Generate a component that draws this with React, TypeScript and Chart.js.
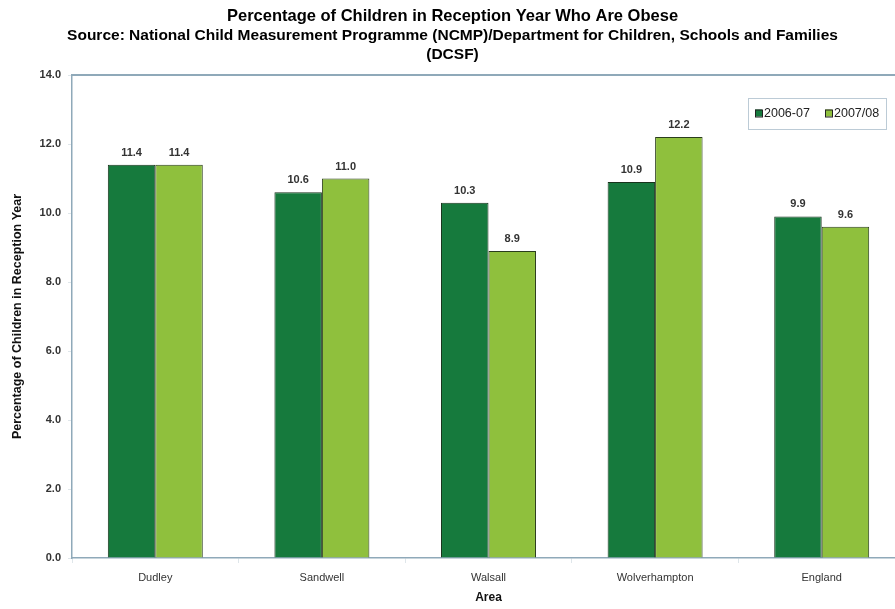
import React, { useEffect, useRef } from "react";
import { Chart, registerables } from "chart.js";

Chart.register(...registerables);

const categories = ["Dudley", "Sandwell", "Walsall", "Wolverhampton", "England"];
const series2006 = [11.4, 10.6, 10.3, 10.9, 9.9];
const series2007 = [11.4, 11.0, 8.9, 12.2, 9.6];
const seriesLabels = ["2006-07", "2007/08"];
const yTicks = [0, 2, 4, 6, 8, 10, 12, 14];

const DARK = "#167a3d";
const LIGHT = "#8fc03d";
const FRAME = "#8fa9b9";
const FONT = "'Liberation Sans', Arial, Helvetica, sans-serif";

const framePlugin = {
  id: "frameTop",
  afterDraw(chart: any) {
    const { ctx, chartArea } = chart;
    ctx.save();
    ctx.strokeStyle = FRAME;
    ctx.lineWidth = 2;
    ctx.beginPath();
    ctx.moveTo(chartArea.left, chartArea.top);
    ctx.lineTo(chartArea.right, chartArea.top);
    ctx.lineTo(chartArea.right, chartArea.bottom);
    ctx.stroke();
    ctx.restore();
  },
};

const valueLabelPlugin = {
  id: "valueLabels",
  afterDatasetsDraw(chart: any) {
    const { ctx } = chart;
    ctx.save();
    ctx.font = `bold 11px ${FONT}`;
    ctx.fillStyle = "#333333";
    ctx.textAlign = "center";
    ctx.textBaseline = "middle";
    chart.data.datasets.forEach((ds: any, i: number) => {
      const meta = chart.getDatasetMeta(i);
      meta.data.forEach((bar: any, j: number) => {
        ctx.fillText(Number(ds.data[j]).toFixed(1), bar.x, bar.y - 12);
      });
    });
    ctx.restore();
  },
};

const legendPlugin = {
  id: "boxLegend",
  afterDraw(chart: any) {
    const { ctx, chartArea } = chart;
    const right = chartArea.right - 19;
    const left = right - 138;
    const top = chartArea.top + 23;
    const h = 31;
    ctx.save();
    ctx.fillStyle = "#ffffff";
    ctx.fillRect(left, top, right - left, h);
    ctx.strokeStyle = "#bccbd6";
    ctx.lineWidth = 1;
    ctx.strokeRect(left + 0.5, top + 0.5, right - left, h);
    ctx.font = `12.5px ${FONT}`;
    ctx.textBaseline = "middle";
    ctx.textAlign = "left";
    const cy = top + h / 2;
    let x = left + 7;
    chart.data.datasets.forEach((ds: any) => {
      ctx.fillStyle = ds.backgroundColor;
      ctx.fillRect(x, cy - 4, 7, 7);
      ctx.strokeStyle = "#222";
      ctx.strokeRect(x + 0.5, cy - 3.5, 7, 7);
      ctx.fillStyle = "#222222";
      ctx.fillText(ds.label, x + 9, cy);
      x += 70;
    });
    ctx.restore();
  },
};

export default function App() {
  const ref = useRef<HTMLCanvasElement | null>(null);

  useEffect(() => {
    document.documentElement.style.overflow = "hidden";
    document.body.style.overflow = "hidden";
    if (!ref.current) return;
    const chart = new Chart(ref.current, {
      type: "bar",
      data: {
        labels: categories,
        datasets: [
          {
            label: seriesLabels[0],
            data: series2006,
            backgroundColor: DARK,
            borderColor: "#17331c",
            borderWidth: 1,
            categoryPercentage: 0.57,
            barPercentage: 1,
          },
          {
            label: seriesLabels[1],
            data: series2007,
            backgroundColor: LIGHT,
            borderColor: "#2a3d1c",
            borderWidth: 1,
            categoryPercentage: 0.57,
            barPercentage: 1,
          },
        ],
      },
      options: {
        animation: false,
        responsive: false,
        devicePixelRatio: 1,
        layout: { padding: { left: 0, right: 1, top: 0, bottom: 0 } },
        plugins: {
          legend: { display: false },
          tooltip: { enabled: false },
          title: {
            display: true,
            text: "Percentage of Children in Reception Year Who Are Obese",
            font: { family: FONT, size: 16.5, weight: "bold", lineHeight: 1.2 },
            color: "#000000",
            padding: { top: 7, bottom: 0 },
          },
          subtitle: {
            display: true,
            text: [
              "Source: National Child Measurement Programme (NCMP)/Department for Children, Schools and Families",
              "(DCSF)",
            ],
            font: { family: FONT, size: 15.5, weight: "bold", lineHeight: 1.2 },
            color: "#000000",
            padding: { top: 0, bottom: 11 },
          },
        },
        scales: {
          x: {
            grid: {
              offset: true,
              drawOnChartArea: false,
              tickLength: 5,
              color: "#dfe6ea",
            },
            border: { color: FRAME, width: 1.5 },
            ticks: {
              font: { family: FONT, size: 11 },
              color: "#333333",
              padding: 8,
            },
            title: {
              display: true,
              text: "Area",
              font: { family: FONT, size: 12, weight: "bold" },
              color: "#111111",
              padding: { top: 0, bottom: 4 },
            },
            afterFit: (s: any) => {
              s.height = 51;
            },
          },
          y: {
            min: 0,
            max: 14,
            afterBuildTicks: (s: any) => {
              s.ticks = yTicks.map((v) => ({ value: v }));
            },
            grid: {
              drawOnChartArea: false,
              tickLength: 4,
              color: "#dfe6ea",
            },
            border: { color: FRAME, width: 1.5 },
            ticks: {
              font: { family: FONT, size: 11, weight: "bold" },
              color: "#333333",
              padding: 7,
              callback: (v: any) => Number(v).toFixed(1),
            },
            title: {
              display: true,
              text: "Percentage of Children in Reception Year",
              font: { family: FONT, size: 12.5, weight: "bold" },
              color: "#111111",
              padding: { top: 10, bottom: 0 },
            },
            afterFit: (s: any) => {
              s.width = 72;
            },
          },
        },
      },
      plugins: [framePlugin, valueLabelPlugin, legendPlugin],
    });
    return () => chart.destroy();
  }, []);

  return (
    <div style={{ position: "fixed", left: 0, top: 0, width: 906, height: 609, background: "#ffffff" }}>
      <canvas ref={ref} width={906} height={609} style={{ width: 906, height: 609, display: "block" }} />
    </div>
  );
}
